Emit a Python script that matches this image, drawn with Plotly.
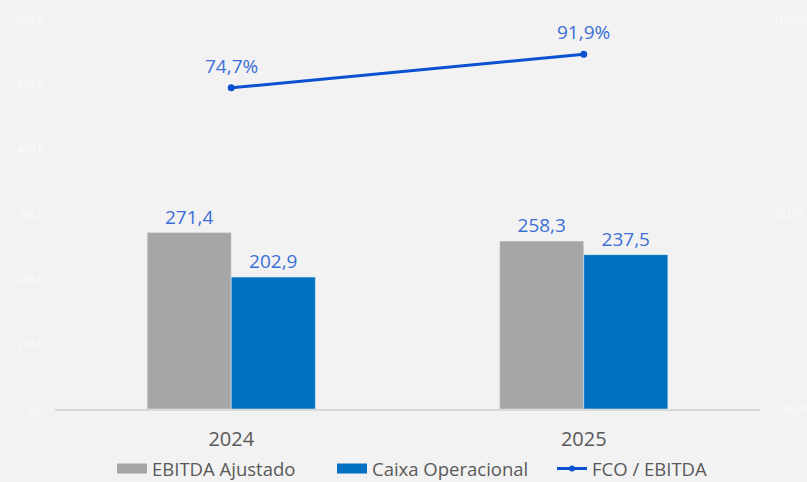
import plotly.graph_objects as go

anos = ["2024", "2025"]
ebitda_ajustado = [271.4, 258.3]
caixa_operacional = [202.9, 237.5]
fco_ebitda = [74.7, 91.9]

azul_label = "#3b6fd6"
cinza = "#a6a6a6"
azul_barra = "#0070c0"
azul_linha = "#0a50d0"
fonte_label = dict(size=19, color=azul_label, family="Open Sans")

fig = go.Figure()

fig.add_trace(go.Bar(
    x=anos, y=ebitda_ajustado, name="EBITDA Ajustado",
    marker_color=cinza, showlegend=False,
    texttemplate="%{y:.1f}", textposition="outside",
    textfont=fonte_label, cliponaxis=False,
))
fig.add_trace(go.Bar(
    x=anos, y=caixa_operacional, name="Caixa Operacional",
    marker_color=azul_barra, showlegend=False,
    texttemplate="%{y:.1f}", textposition="outside",
    textfont=fonte_label, cliponaxis=False,
))
fig.add_trace(go.Scatter(
    x=anos, y=fco_ebitda, name="FCO / EBITDA", yaxis="y2",
    mode="lines+markers", showlegend=False,
    line=dict(color=azul_linha, width=3),
    marker=dict(size=7, color=azul_linha),
    cliponaxis=False,
))

# rótulos da linha (x pelo índice da categoria)
for i, v in enumerate(fco_ebitda):
    fig.add_annotation(
        x=i, y=v, yref="y2", text=f"{v:.1f}%".replace(".", ","),
        showarrow=False, yshift=22, font=fonte_label,
    )

# entradas de legenda (retângulos largos como no Excel)
fig.add_trace(go.Scatter(x=[None], y=[None], name="EBITDA Ajustado", mode="lines",
                         line=dict(color=cinza, width=11)))
fig.add_trace(go.Scatter(x=[None], y=[None], name="Caixa Operacional", mode="lines",
                         line=dict(color=azul_barra, width=11)))
fig.add_trace(go.Scatter(x=[None], y=[None], name="FCO / EBITDA", mode="lines+markers",
                         line=dict(color=azul_linha, width=3),
                         marker=dict(size=6, color=azul_linha)))

fig.update_layout(
    width=807, height=482,
    margin=dict(l=55, r=47, t=19, b=73, autoexpand=False),
    paper_bgcolor="#f2f2f2", plot_bgcolor="#f2f2f2",
    separators=",.",
    barmode="group", bargap=0.523, bargroupgap=0,
    showlegend=True,
    legend=dict(
        orientation="h", xref="container", x=112 / 807, xanchor="left",
        yref="container", y=0.027, yanchor="middle",
        font=dict(size=18.5, color="#595959", family="Open Sans"),
        itemwidth=30, traceorder="normal", entrywidth=175,
    ),
    xaxis=dict(
        type="category", range=[-0.5, 1.5],
        showgrid=False, showline=True, automargin=False,
        linecolor="#d9d9d9", linewidth=1.5, ticks="",
        tickfont=dict(size=20, color="#595959", family="Open Sans"),
        ticklabelstandoff=11,
    ),
    yaxis=dict(
        range=[0, 600], dtick=100, tickformat=".1f", automargin=False,
        showgrid=False, zeroline=False,
        tickfont=dict(size=12, color="#fbfbfb", family="Liberation Serif"),
        ticklabelstandoff=10,
    ),
    yaxis2=dict(
        overlaying="y", side="right", automargin=False,
        range=[-90, 110], tick0=-90, dtick=100,
        tickformat=".1f", ticksuffix="%",
        showgrid=False, zeroline=False,
        tickfont=dict(size=12, color="#fbfbfb", family="Liberation Serif"),
        ticklabelstandoff=12,
    ),
)

fig.write_html(
    "out.html",
    config={"displayModeBar": False},
    post_script="document.body.style.margin='0';document.body.style.overflow='hidden';",
)
